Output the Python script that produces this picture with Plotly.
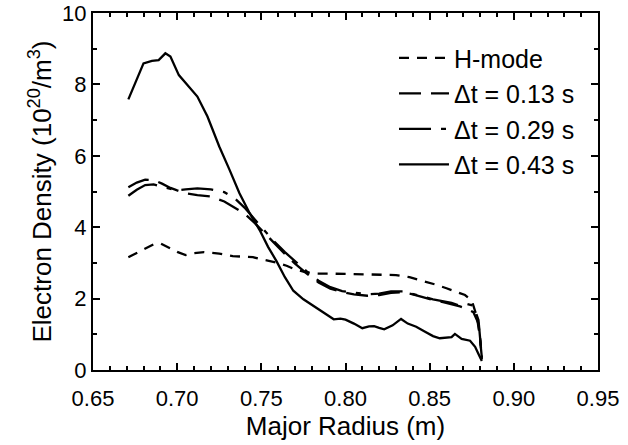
import plotly.graph_objects as go

# ---- data ----
r_h = [0.671, 0.676, 0.681, 0.686, 0.690, 0.694, 0.700, 0.705, 0.710, 0.716, 0.725, 0.733,
       0.741, 0.745, 0.750, 0.755, 0.760, 0.765, 0.770, 0.776, 0.783, 0.790, 0.800, 0.810,
       0.820, 0.830, 0.838, 0.846, 0.853, 0.860, 0.866, 0.871, 0.875, 0.878, 0.880, 0.881]
n_h = [3.16, 3.28, 3.42, 3.52, 3.55, 3.45, 3.31, 3.22, 3.27, 3.30, 3.26, 3.19,
       3.16, 3.16, 3.10, 3.05, 3.00, 2.92, 2.82, 2.74, 2.70, 2.70, 2.69, 2.68,
       2.67, 2.66, 2.60, 2.50, 2.40, 2.29, 2.18, 2.10, 1.95, 1.50, 0.90, 0.30]

r_d = [0.671, 0.676, 0.681, 0.686, 0.691, 0.696, 0.700, 0.705, 0.712, 0.720, 0.728, 0.734,
       0.740, 0.746, 0.752, 0.758, 0.764, 0.770, 0.777, 0.784, 0.791, 0.798, 0.805, 0.813,
       0.820, 0.827, 0.834, 0.840, 0.846, 0.852, 0.858, 0.863, 0.868, 0.872, 0.876, 0.879, 0.881]
n_013 = [5.12, 5.25, 5.33, 5.32, 5.22, 5.10, 5.03, 4.95, 4.90, 4.86, 4.72, 4.55,
         4.38, 4.12, 3.82, 3.52, 3.25, 2.98, 2.70, 2.45, 2.28, 2.18, 2.12, 2.08,
         2.10, 2.16, 2.18, 2.12, 2.03, 1.96, 1.90, 1.85, 1.78, 1.72, 1.62, 1.30, 0.35]
n_029 = [4.88, 5.05, 5.18, 5.20, 5.13, 5.07, 5.03, 5.06, 5.09, 5.06, 4.98, 4.82,
         4.55, 4.22, 3.90, 3.58, 3.30, 3.04, 2.76, 2.50, 2.32, 2.21, 2.16, 2.12,
         2.14, 2.20, 2.20, 2.14, 2.06, 1.98, 1.92, 1.88, 1.80, 1.85, 1.80, 1.40, 0.35]

r_s = [0.671, 0.676, 0.680, 0.685, 0.689, 0.693, 0.696, 0.701, 0.706, 0.712, 0.718, 0.725,
       0.731, 0.737, 0.743, 0.749, 0.754, 0.759, 0.764, 0.769, 0.775, 0.781, 0.787, 0.793,
       0.797, 0.800, 0.805, 0.810, 0.814, 0.817, 0.820, 0.823, 0.828, 0.833, 0.837, 0.842,
       0.847, 0.852, 0.856, 0.860, 0.863, 0.865, 0.869, 0.874, 0.877, 0.879, 0.881]
n_043 = [7.58, 8.15, 8.59, 8.66, 8.68, 8.87, 8.78, 8.26, 7.98, 7.66, 7.10, 6.26,
         5.62, 4.95, 4.40, 3.92, 3.45, 3.05, 2.60, 2.22, 1.98, 1.80, 1.60, 1.42,
         1.44, 1.41, 1.30, 1.17, 1.22, 1.23, 1.18, 1.14, 1.25, 1.43, 1.30, 1.21,
         1.08, 0.95, 0.89, 0.90, 0.92, 1.01, 0.87, 0.82, 0.65, 0.45, 0.25]

labels = ["H-mode", "Δt = 0.13 s", "Δt = 0.29 s", "Δt = 0.43 s"]
x_ticks = [0.65, 0.70, 0.75, 0.80, 0.85, 0.90, 0.95]
x_ticktext = ["0.65", "0.70", "0.75", "0.80", "0.85", "0.90", "0.95"]
y_ticks = [0, 2, 4, 6, 8, 10]

FONT = "Liberation Sans, Arial, Helvetica, sans-serif"

fig = go.Figure()
lw = 2.3
fig.add_trace(go.Scatter(x=r_h, y=n_h, mode="lines", name=labels[0],
                         line=dict(color="black", width=lw, dash="10px,8px")))
fig.add_trace(go.Scatter(x=r_d, y=n_013, mode="lines", name=labels[1],
                         line=dict(color="black", width=lw, dash="22px,10px")))
fig.add_trace(go.Scatter(x=r_d, y=n_029, mode="lines", name=labels[2],
                         line=dict(color="black", width=lw, dash="32px,10px,5px,10px")))
fig.add_trace(go.Scatter(x=r_s, y=n_043, mode="lines", name=labels[3],
                         line=dict(color="black", width=lw)))

axis_common = dict(showline=True, linecolor="black", linewidth=2, mirror="ticks",
                   ticks="inside", tickcolor="black", tickwidth=2, ticklen=7,
                   showgrid=False, zeroline=False, automargin=False,
                   ticklabeloverflow="allow",
                   tickfont=dict(family=FONT, size=22, color="black"))

fig.update_xaxes(range=[0.65, 0.95], tickvals=x_ticks, ticktext=x_ticktext,
                 ticklabelstandoff=8,
                 minor=dict(dtick=0.01, ticks="inside", ticklen=4, tickcolor="black", tickwidth=2),
                 title=dict(text="Major Radius (m)", font=dict(family=FONT, size=26, color="black"),
                            standoff=0),
                 **axis_common)
fig.update_yaxes(range=[0, 10], tickvals=y_ticks,
                 minor=dict(dtick=1, ticks="inside", ticklen=4, tickcolor="black", tickwidth=2),
                 title=dict(text="Electron Density (10<sup>20</sup>/m<sup>3</sup>)",
                            font=dict(family=FONT, size=26, color="black"), standoff=3),
                 **axis_common)

fig.update_layout(
    width=628, height=445,
    margin=dict(l=93, r=30, t=13, b=75, autoexpand=False),
    paper_bgcolor="white", plot_bgcolor="white",
    legend=dict(x=0.596, y=0.938, xanchor="left", yanchor="top",
                bgcolor="rgba(0,0,0,0)", borderwidth=0,
                font=dict(family=FONT, size=25, color="black"),
                itemwidth=50, tracegroupgap=0),
    showlegend=True,
)

fig.write_html("out.html", config={"displayModeBar": False},
               post_script="document.body.style.margin='0';document.body.style.overflow='hidden';")
